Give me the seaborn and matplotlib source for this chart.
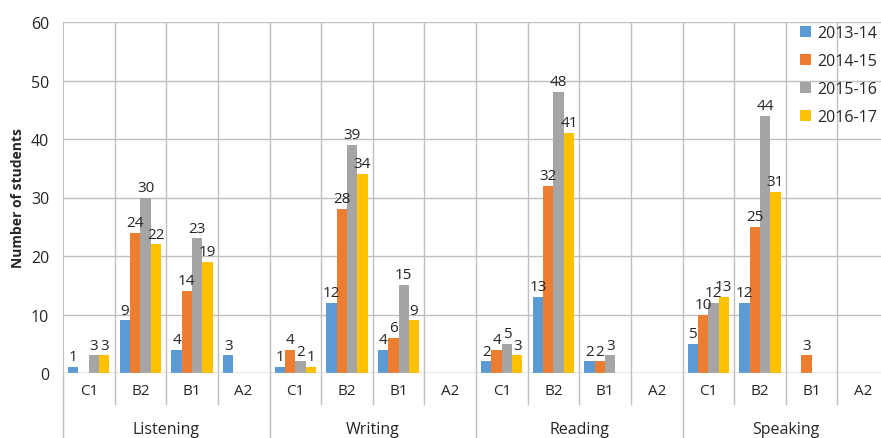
import numpy as np
import pandas as pd
import matplotlib
matplotlib.use('Agg')
import matplotlib.pyplot as plt
import matplotlib.transforms as mtransforms
import seaborn as sns

# ============================
# Data
# ============================
skills = ['Listening', 'Writing', 'Reading', 'Speaking']
levels = ['C1', 'B2', 'B1', 'A2']
years = ['2013-14', '2014-15', '2015-16', '2016-17']

# values per year, order: skill x level (16 categories)
y2013 = [1, 9, 4, 3, 1, 12, 4, 0, 2, 13, 2, 0, 5, 12, 0, 0]
y2014 = [0, 24, 14, 0, 4, 28, 6, 0, 4, 32, 2, 0, 10, 25, 3, 0]
y2015 = [3, 30, 23, 0, 2, 39, 15, 0, 5, 48, 3, 0, 12, 44, 0, 0]
y2016 = [3, 22, 19, 0, 1, 34, 9, 0, 3, 41, 0, 0, 13, 31, 0, 0]

colors = ['#5B9BD5', '#ED7D31', '#A5A5A5', '#FFC000']

cats = [f'{s}|{l}' for s in skills for l in levels]
rows = []
for yr, vals in zip(years, [y2013, y2014, y2015, y2016]):
    for c, v in zip(cats, vals):
        rows.append({'cat': c, 'year': yr, 'students': v})
df = pd.DataFrame(rows)

# ============================
# Plot
# ============================
sns.set_style('white')
plt.rcParams['font.family'] = ['Open Sans', 'DejaVu Sans']

fig = plt.figure(figsize=(8.81, 4.39), dpi=100)
ax = fig.add_axes([63 / 881, 65 / 439, 826 / 881, 351 / 439])

grid_c = '#BFBFBF'
txt_c = '#262626'
ax.set_ylim(0, 60)
ax.set_yticks(range(0, 61, 10))
ax.yaxis.grid(True, color=grid_c, lw=1)
ax.set_axisbelow(True)

sns.barplot(data=df, x='cat', y='students', hue='year', hue_order=years,
            order=cats, palette=colors, width=0.8, saturation=1,
            linewidth=0, ax=ax, zorder=3)
ax.set_xlim(-0.5, len(cats) - 0.5)

# data labels, skip zeros
for cont in ax.containers:
    labs = [str(int(b.get_height())) if b.get_height() > 0 else '' for b in cont]
    ax.bar_label(cont, labels=labs, padding=2, fontsize=11, color=txt_c)

# vertical category separators inside the plot
for i in range(1, len(cats)):
    ax.axvline(i - 0.5, color=grid_c, lw=1, zorder=1)

for sp in ['top', 'right', 'bottom']:
    ax.spines[sp].set_visible(False)
ax.spines['left'].set_color(grid_c)
ax.axhline(0, color=grid_c, lw=1, zorder=4)

# x axis: two-level labels
ax.set_xticks(range(len(cats)))
ax.set_xticklabels(levels * len(skills), fontsize=11, color=txt_c)
ax.tick_params(axis='x', length=0, pad=7)
ax.tick_params(axis='y', length=0, labelsize=11.5, labelcolor=txt_c, pad=10)

trans = mtransforms.blended_transform_factory(ax.transData, ax.transAxes)
lvl_drop = 31 / 351
grp_drop = 65 / 351
for i in range(len(cats) + 1):
    x = i - 0.5
    d = grp_drop if i % 4 == 0 else lvl_drop
    ax.plot([x, x], [0, -d], transform=trans, color=grid_c, lw=1, clip_on=False)
for k, s in enumerate(skills):
    ax.text(k * 4 + 1.5, -56 / 351, s, transform=trans, ha='center', va='center',
            fontsize=11.5, color=txt_c)

ax.set_xlabel('')
ax.set_ylabel('Number of students', fontsize=10, fontweight='bold', labelpad=4)

ax.legend(loc='upper left', bbox_to_anchor=(726 / 826, 1.022), frameon=False,
          fontsize=11.5, handlelength=0.7, handleheight=0.7, handletextpad=0.4,
          labelspacing=0.75, borderaxespad=0.3)

fig.savefig('out.png', dpi=100)
